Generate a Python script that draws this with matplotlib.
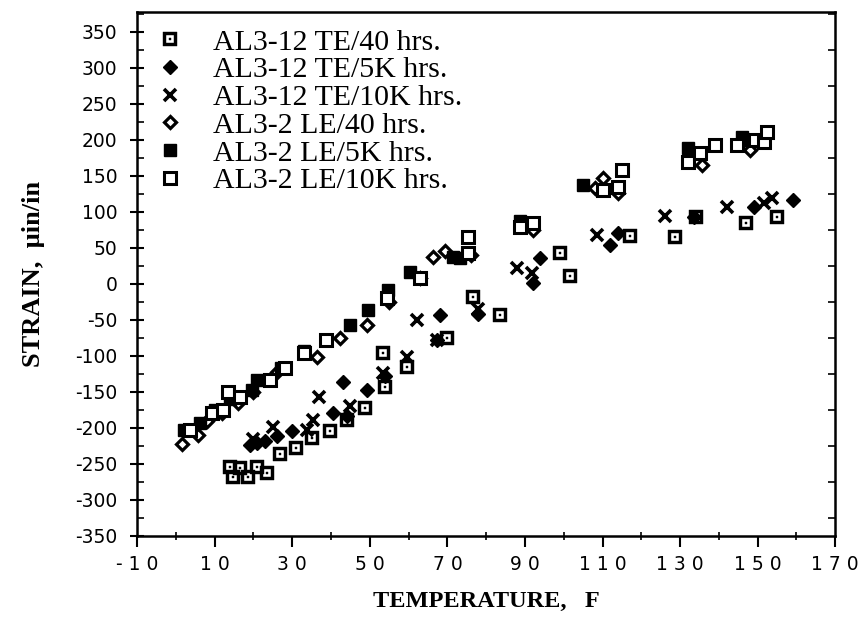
import numpy as np
import matplotlib.pyplot as plt
from matplotlib.path import Path
from matplotlib.ticker import MultipleLocator

# AL3-12 TE/40 hrs. (Quadrat mit Punkt)
te40_x = [14, 14.8, 16.6, 18.7, 21, 23.5, 26.9, 31, 35, 39.8, 44, 48.8, 54, 53.5,
          59.6, 70, 76.7, 83.6, 99, 101.7, 117, 128.7, 134, 147, 155]
te40_y = [-254, -268, -256, -269, -254, -263, -237, -228, -214, -205, -189, -172, -143, -96,
          -115, -75, -18, -43, 43, 11, 67, 65, 93, 85, 93]

# AL3-12 TE/5K hrs. (gefuellte Raute)
te5k_x = [19, 21, 23, 26, 30, 40.6, 43, 44, 49.3, 54, 68, 67.4, 78, 92, 94,
          112, 114, 133.5, 149, 159]
te5k_y = [-224, -221, -218, -212, -205, -180, -136, -184, -147, -128, -43, -78, -42, 1, 36,
          54, 71, 93, 107, 117]

# AL3-12 TE/10K hrs. (x)
te10k_x = [20, 25, 33.8, 35.4, 37, 45, 53.5, 59.6, 62.2, 67.4, 78, 88, 91.8,
           108.6, 126, 142, 151.5, 153.8]
te10k_y = [-215, -199, -203, -189, -157, -170, -124, -101, -50, -78, -35, 22, 15,
           68, 94, 107, 112, 119]

# AL3-2 LE/40 hrs. (offene Raute)
le40_x = [1.5, 5.7, 8, 12, 16, 20, 26, 36.4, 42.3, 49.3, 55, 63, 66.3, 69.5, 76,
          92, 108, 110, 114, 135.7, 148]
le40_y = [-223, -210, -190, -180, -165, -150, -122, -101, -75, -57, -25, 8, 38, 45, 40,
          75, 133, 147, 126, 165, 186]

# AL3-2 LE/5K hrs. (gefuelltes Quadrat)
le5k_x = [2, 6.3, 10, 14, 19.7, 21, 27, 33, 38.7, 45, 49.6, 54.8, 60.4, 71.5, 73.3,
          88.8, 105, 132, 146, 147]
le5k_y = [-203, -193, -175, -160, -147, -133, -117, -93, -78, -57, -36, -8, 17, 38, 36,
          88, 138, 189, 204, 200]

# AL3-2 LE/10K hrs. (offenes Quadrat)
le10k_x = [3.7, 9.3, 12.2, 13.5, 16.6, 24.3, 28.2, 33, 38.7, 54.5, 63, 75.4, 75.4,
           88.8, 92, 110, 114, 115, 132, 135, 139, 144.7, 149.4, 151.5, 152.5]
le10k_y = [-203, -180, -175, -150, -157, -133, -117, -96, -78, -20, 8, 43, 65,
           79, 84, 130, 135, 158, 169, 182, 193, 193, 200, 197, 211]

labels = ["AL3-12 TE/40 hrs.", "AL3-12 TE/5K hrs.", "AL3-12 TE/10K hrs.",
          "AL3-2 LE/40 hrs.", "AL3-2 LE/5K hrs.", "AL3-2 LE/10K hrs."]

xticks = [-10, 10, 30, 50, 70, 90, 110, 130, 150, 170]
yticks = list(range(-350, 351, 50))

# Quadrat mit Loch und Punkt in der Mitte
def sq_dot():
    o, i, d = 1.0, 0.55, 0.2
    verts = [(-o, -o), (o, -o), (o, o), (-o, o), (-o, -o),
             (-i, -i), (-i, i), (i, i), (i, -i), (-i, -i),
             (-d, -d), (d, -d), (d, d), (-d, d), (-d, -d)]
    codes = ([Path.MOVETO] + [Path.LINETO] * 3 + [Path.CLOSEPOLY]) * 3
    return Path(verts, codes)

fig = plt.figure(figsize=(8.62, 6.23), dpi=100)
ax = fig.add_axes([0.159, 0.140, 0.810, 0.841])

ax.plot(te40_x, te40_y, ls='none', marker=sq_dot(), ms=10, mfc='k', mec='k', mew=0.3,
        label=labels[0])
ax.plot(te5k_x, te5k_y, ls='none', marker='D', ms=7.5, mfc='k', mec='k', mew=1,
        label=labels[1])
ax.plot(te10k_x, te10k_y, ls='none', marker='x', ms=8, mec='k', mew=2.6,
        label=labels[2])
ax.plot(le40_x, le40_y, ls='none', marker='D', ms=6.5, mfc='w', mec='k', mew=2.3,
        label=labels[3])
ax.plot(le5k_x, le5k_y, ls='none', marker='s', ms=9, mfc='k', mec='k', mew=1,
        label=labels[4])
ax.plot(le10k_x, le10k_y, ls='none', marker='s', ms=9, mfc='w', mec='k', mew=2.2,
        label=labels[5])

ax.set_xlim(-10, 170)
ax.set_ylim(-350, 378)
ax.set_xticks(xticks)
ax.set_xticklabels([' '.join(str(t)) for t in xticks], family='DejaVu Sans', fontsize=13.5)
ax.set_yticks(yticks)
ax.set_yticklabels([str(t) for t in yticks], family='DejaVu Sans', fontsize=13.5)
ax.xaxis.set_minor_locator(MultipleLocator(10))
ax.yaxis.set_minor_locator(MultipleLocator(25))
ax.tick_params(axis='x', which='major', direction='out', length=8, width=1.5, pad=6)
ax.tick_params(axis='x', which='minor', direction='inout', length=6, width=1.2)
ax.tick_params(axis='y', which='major', direction='inout', length=10, width=1.5, pad=9)
ax.tick_params(axis='y', which='minor', direction='in', length=5, width=1.2, right=True)
for s in ax.spines.values():
    s.set_linewidth(1.8)

ax.set_xlabel('TEMPERATURE,   F', family='Liberation Serif', fontweight='bold',
              fontsize=17.5, labelpad=12)
ax.set_ylabel('STRAIN,  µin/in', family='Liberation Serif', fontweight='bold',
              fontsize=19, labelpad=22)

leg = ax.legend(loc='upper left', frameon=False,
                prop={'family': 'Liberation Serif', 'size': 21.5},
                handlelength=1.0, handletextpad=0.93, labelspacing=0.03,
                borderpad=0, borderaxespad=0, bbox_to_anchor=(0.026, 0.968))

fig.savefig('out.png', dpi=100)
